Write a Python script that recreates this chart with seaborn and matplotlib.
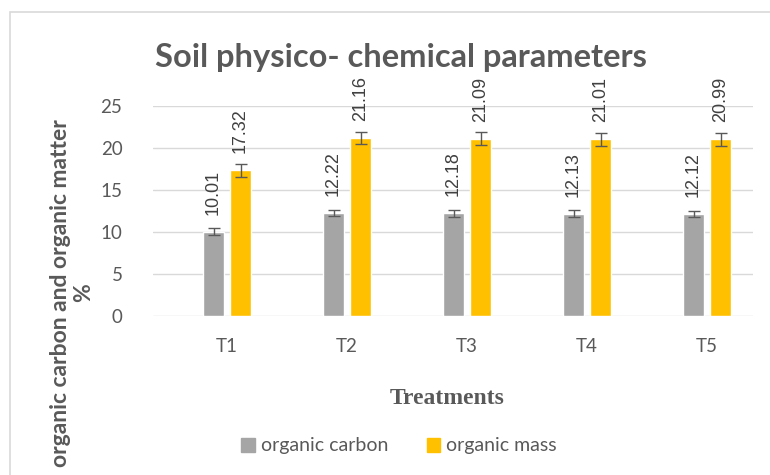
import matplotlib
matplotlib.use("Agg")
import matplotlib.pyplot as plt
from matplotlib.patches import Rectangle
import numpy as np
import pandas as pd
import seaborn as sns

treatments = ["T1", "T2", "T3", "T4", "T5"]
organic_carbon = [10.01, 12.22, 12.18, 12.13, 12.12]
organic_mass = [17.32, 21.16, 21.09, 21.01, 20.99]
carbon_err = [0.4, 0.4, 0.4, 0.4, 0.4]
mass_err = [0.77, 0.75, 0.75, 0.75, 0.75]
series = ["organic carbon", "organic mass"]
colors = ["#A5A5A5", "#FFC000"]

df = pd.DataFrame({
    "treatment": treatments * 2,
    "value": organic_carbon + organic_mass,
    "err": carbon_err + mass_err,
    "series": [series[0]] * 5 + [series[1]] * 5,
})

sns.set_theme(style="white")
plt.rcParams["font.family"] = ["Lato", "DejaVu Sans"]

W, H = 770, 475
fig = plt.figure(figsize=(W / 100, H / 100), dpi=100)
ax = fig.add_axes([153 / W, 1 - 315.7 / H, (753 - 153) / W, 210 / H])

sns.barplot(data=df, x="treatment", y="value", hue="series", palette=colors,
            width=0.45, gap=0.22, errorbar=None, ax=ax, legend=False,
            saturation=1)

grey = "#595959"
for bar, v, e in zip(ax.patches, df["value"], df["err"]):
    cx = bar.get_x() + bar.get_width() / 2
    ax.errorbar(cx, v, yerr=e, fmt="none", ecolor=grey, elinewidth=1,
                capsize=4.5, capthick=1)
    ax.annotate(f"{v:.2f}", (cx, v), xytext=(0, 17), textcoords="offset pixels",
                rotation=90, ha="center", va="bottom", fontsize=13,
                color="#404040", family="Liberation Sans", annotation_clip=False)

ax.set_ylim(0, 25)
ax.set_xlim(-0.617, 4.383)
ax.set_yticks(range(0, 26, 5))
ax.yaxis.grid(True, color="#D9D9D9", lw=1)
ax.set_axisbelow(True)
for s in ax.spines.values():
    s.set_visible(False)
ax.tick_params(axis="y", length=0, pad=22, labelsize=13.5, labelcolor=grey)
ax.tick_params(axis="x", length=0, pad=16, labelsize=13.5, labelcolor=grey)
ax.set_xlabel("")
ax.set_ylabel("")

fig.text(401 / W, 1 - 57 / H, "Soil physico- chemical parameters", ha="center",
         va="center", fontsize=23.5, fontweight="bold", color=grey)
fig.text(72 / W, 1 - 293 / H, "organic carbon and organic matter\n%",
         rotation=90, ha="center", va="center", multialignment="center",
         fontsize=16.5, fontweight="bold", color=grey, linespacing=1.15)
fig.text(447 / W, 1 - 398 / H, "Treatments", ha="center", va="center",
         fontsize=17, fontweight="bold", color=grey, family="Liberation Serif")

handles = [Rectangle((0, 0), 1, 1, color=c) for c in colors]
leg = fig.legend(handles, series, loc="center", bbox_to_anchor=(399 / W, 1 - 446 / H),
                 ncol=2, frameon=False, fontsize=14, handlelength=0.7,
                 handleheight=0.7, handletextpad=0.3, columnspacing=2.0)
for t in leg.get_texts():
    t.set_color(grey)

fig.patches.append(Rectangle((10 / W, -0.5), 2, 0.5 + 1 - 12 / H, fill=False,
                             edgecolor="#D9D9D9", lw=1.2, transform=fig.transFigure))

fig.savefig("out.png", dpi=100)
